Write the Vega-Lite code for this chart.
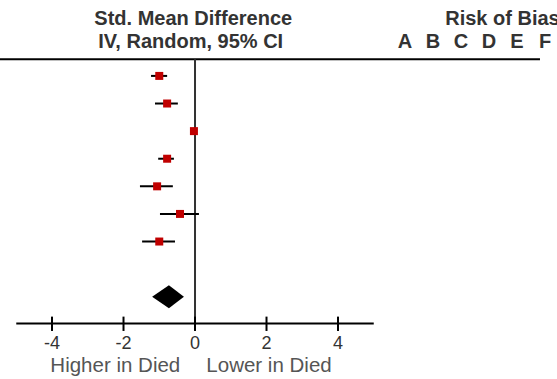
{
  "$schema": "https://vega.github.io/schema/vega-lite/v6.json",
  "width": 557,
  "height": 379,
  "autosize": "none",
  "padding": 0,
  "config": {"view": {"stroke": null}, "text": {"font": "Liberation Sans"}},
  "datasets": {
    "studies": [
      {"row": 1, "est": -1.0, "lo": -1.23, "hi": -0.78},
      {"row": 2, "est": -0.78, "lo": -1.12, "hi": -0.48},
      {"row": 3, "est": -0.03, "lo": -0.08, "hi": 0.02},
      {"row": 4, "est": -0.78, "lo": -1.03, "hi": -0.59},
      {"row": 5, "est": -1.06, "lo": -1.54, "hi": -0.62},
      {"row": 6, "est": -0.42, "lo": -0.98, "hi": 0.11},
      {"row": 7, "est": -1.0, "lo": -1.48, "hi": -0.56}
    ],
    "pooled": [
      {"x": -1.2, "top": 9.0, "bottom": 9.0},
      {"x": -0.73, "top": 8.58, "bottom": 9.42},
      {"x": -0.31, "top": 9.0, "bottom": 9.0}
    ],
    "frame": [
      {"part": "top", "x": -5.455, "x2": 9.65, "y": 0.4},
      {"part": "axis", "x": -5, "x2": 5, "y": 9.97}
    ],
    "zero": [{"x": 0, "y": 0.4, "y2": 9.97}],
    "ticks": [
      {"v": -4, "label": "-4"},
      {"v": -2, "label": "-2"},
      {"v": 0, "label": "0"},
      {"v": 2, "label": "2"},
      {"v": 4, "label": "4"}
    ],
    "headers": [
      {"text": "Std. Mean Difference", "x": -0.05, "y": -1.065},
      {"text": "IV, Random, 95% CI", "x": -0.12, "y": -0.232},
      {"text": "A", "x": 5.874, "y": -0.232},
      {"text": "B", "x": 6.657, "y": -0.232},
      {"text": "C", "x": 7.44, "y": -0.232},
      {"text": "D", "x": 8.224, "y": -0.232},
      {"text": "E", "x": 9.007, "y": -0.232},
      {"text": "F", "x": 9.79, "y": -0.232}
    ],
    "headersLeft": [
      {"text": "Risk of Bias", "x": 7.0, "y": -1.065}
    ],
    "directions": [
      {"text": "Higher in Died", "x": -2.23, "y": 11.5},
      {"text": "Lower in Died", "x": 2.07, "y": 11.5}
    ]
  },
  "layer": [
    {
      "data": {"name": "frame"},
      "mark": {"type": "rule", "color": "#000000", "strokeWidth": 2},
      "encoding": {
        "x": {"field": "x", "type": "quantitative", "scale": {"domain": [-5.455, 10.126], "nice": false, "zero": false}, "axis": null},
        "x2": {"field": "x2"},
        "y": {"field": "y", "type": "quantitative", "scale": {"domain": [-1.75, 11.98], "nice": false, "zero": false, "reverse": true}, "axis": null}
      }
    },
    {
      "data": {"name": "zero"},
      "mark": {"type": "rule", "color": "#333333", "strokeWidth": 2},
      "encoding": {
        "x": {"field": "x", "type": "quantitative"},
        "y": {"field": "y", "type": "quantitative"},
        "y2": {"field": "y2"}
      }
    },
    {
      "data": {"name": "ticks"},
      "transform": [{"calculate": "9.72", "as": "t0"}, {"calculate": "10.24", "as": "t1"}],
      "mark": {"type": "rule", "color": "#000000", "strokeWidth": 2},
      "encoding": {
        "x": {"field": "v", "type": "quantitative"},
        "y": {"field": "t0", "type": "quantitative"},
        "y2": {"field": "t1"}
      }
    },
    {
      "data": {"name": "ticks"},
      "transform": [{"calculate": "10.73", "as": "ly"}],
      "mark": {"type": "text", "fontSize": 18, "color": "#333333", "baseline": "middle", "align": "center"},
      "encoding": {
        "x": {"field": "v", "type": "quantitative"},
        "y": {"field": "ly", "type": "quantitative"},
        "text": {"field": "label"}
      }
    },
    {
      "data": {"name": "studies"},
      "mark": {"type": "rule", "color": "#000000", "strokeWidth": 2},
      "encoding": {
        "x": {"field": "lo", "type": "quantitative"},
        "x2": {"field": "hi"},
        "y": {"field": "row", "type": "quantitative"}
      }
    },
    {
      "data": {"name": "studies"},
      "mark": {"type": "point", "shape": "square", "filled": true, "size": 64, "color": "#c00000", "opacity": 1, "strokeWidth": 0},
      "encoding": {
        "x": {"field": "est", "type": "quantitative"},
        "y": {"field": "row", "type": "quantitative"}
      }
    },
    {
      "data": {"name": "pooled"},
      "mark": {"type": "area", "color": "#000000", "orient": "vertical", "opacity": 1},
      "encoding": {
        "x": {"field": "x", "type": "quantitative"},
        "y": {"field": "top", "type": "quantitative"},
        "y2": {"field": "bottom"}
      }
    },
    {
      "data": {"name": "headers"},
      "mark": {"type": "text", "fontSize": 20, "fontWeight": "bold", "color": "#333333", "baseline": "middle", "align": "center"},
      "encoding": {
        "x": {"field": "x", "type": "quantitative"},
        "y": {"field": "y", "type": "quantitative"},
        "text": {"field": "text"}
      }
    },
    {
      "data": {"name": "headersLeft"},
      "mark": {"type": "text", "fontSize": 20, "fontWeight": "bold", "color": "#333333", "baseline": "middle", "align": "left"},
      "encoding": {
        "x": {"field": "x", "type": "quantitative"},
        "y": {"field": "y", "type": "quantitative"},
        "text": {"field": "text"}
      }
    },
    {
      "data": {"name": "directions"},
      "mark": {"type": "text", "fontSize": 20.5, "color": "#555555", "baseline": "middle", "align": "center"},
      "encoding": {
        "x": {"field": "x", "type": "quantitative"},
        "y": {"field": "y", "type": "quantitative"},
        "text": {"field": "text"}
      }
    }
  ]
}
